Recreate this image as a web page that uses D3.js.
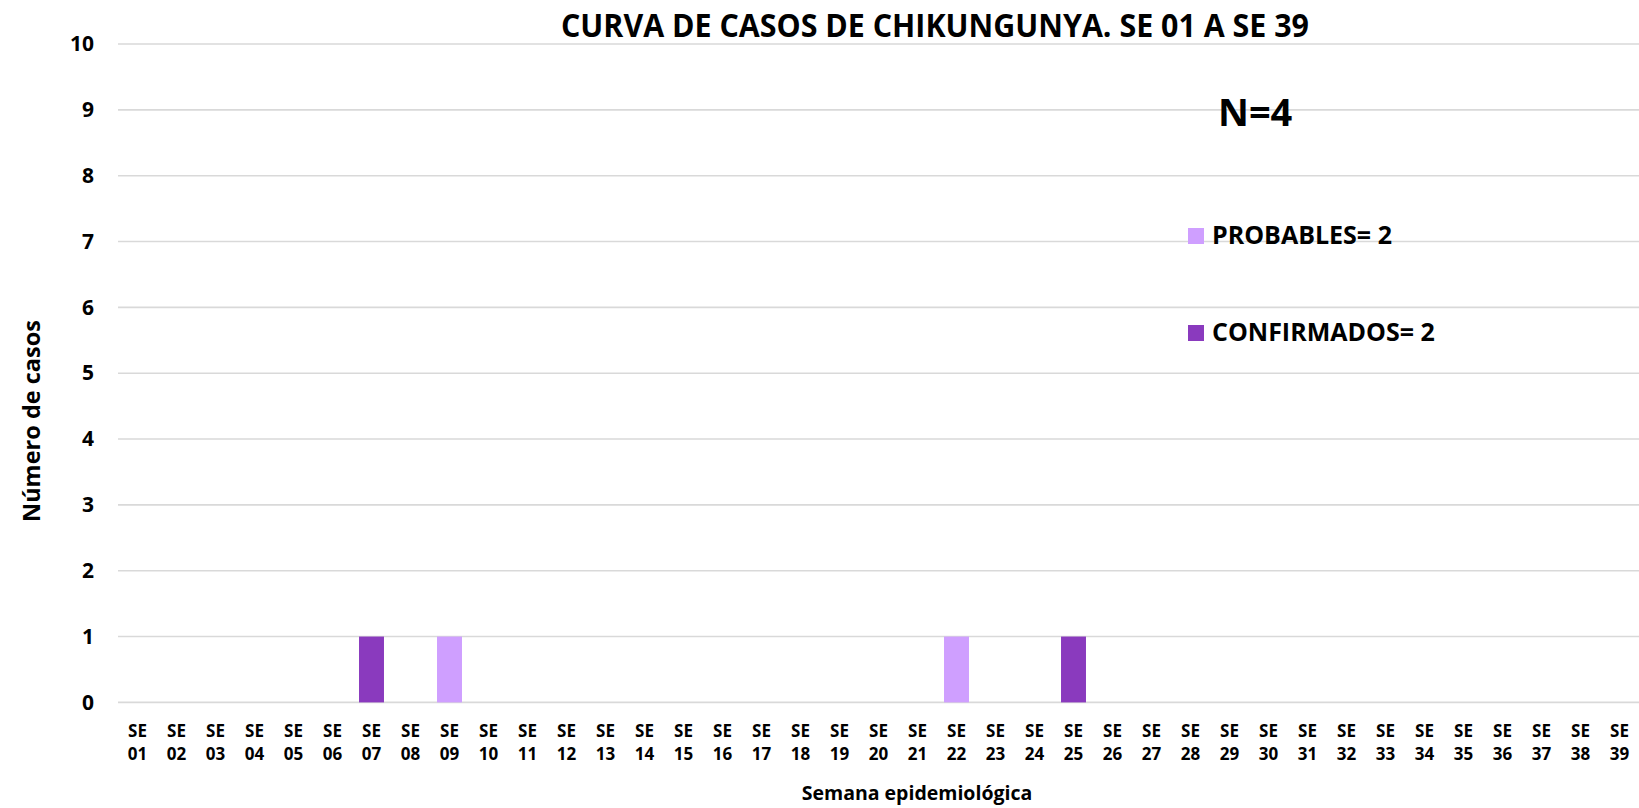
<!DOCTYPE html>
<html>
<head>
<meta charset="utf-8">
<script src="https://cdn.jsdelivr.net/npm/d3@7"></script>
<style>
  html, body { margin: 0; padding: 0; background: #fff; }
  svg { display: block; font-family: "Open Sans", "Noto Sans", sans-serif; }
</style>
</head>
<body>
<svg id="chart" width="1639" height="808"></svg>
<script>
// ---- data ----
const weeks = ["01","02","03","04","05","06","07","08","09","10","11","12","13","14","15","16","17","18","19","20",
               "21","22","23","24","25","26","27","28","29","30","31","32","33","34","35","36","37","38","39"];
const probables   = [0,0,0,0,0,0,0,0,1,0,0,0,0,0,0,0,0,0,0,0,0,1,0,0,0,0,0,0,0,0,0,0,0,0,0,0,0,0,0];
const confirmados = [0,0,0,0,0,0,1,0,0,0,0,0,0,0,0,0,0,0,0,0,0,0,0,0,1,0,0,0,0,0,0,0,0,0,0,0,0,0,0];
const yTicks = [0,1,2,3,4,5,6,7,8,9,10];
const seriesNames = ["PROBABLES= 2", "CONFIRMADOS= 2"];
const titleText = "CURVA DE CASOS DE CHIKUNGUNYA. SE 01 A SE 39";
const nText = "N=4";

// ---- layout ----
const svg = d3.select("#chart");
const mLeft = 118, mRight = 1639, mTop = 44, mBottom = 702.4;
const colors = { prob: "#cf9fff", conf: "#8a3abe" };

const x = d3.scaleBand().domain(weeks).range([mLeft, mRight]).paddingInner(0.36).paddingOuter(0.18);
const y = d3.scaleLinear().domain([0, 10]).range([mBottom, mTop]);

// gridlines
svg.append("g").selectAll("line").data(yTicks).join("line")
  .attr("x1", mLeft).attr("x2", mRight)
  .attr("y1", d => y(d)).attr("y2", d => y(d))
  .attr("stroke", "#d9d9d9").attr("stroke-width", 1.6);

// y axis labels
const yAxis = d3.axisLeft(y).tickValues(yTicks).tickSize(0).tickPadding(0).tickFormat(d3.format("d"));
const gy = svg.append("g").attr("transform", `translate(94,0)`).call(yAxis);
gy.select(".domain").remove();
gy.selectAll("text").attr("font-size", 21).attr("font-weight", "bold").attr("fill", "#000")
  .attr("font-family", "'Open Sans', sans-serif");

// bars (stacked)
const rows = weeks.map((w, i) => ({ week: w, prob: probables[i], conf: confirmados[i] }));
const stack = d3.stack().keys(["conf", "prob"])(rows);
svg.append("g").selectAll("g").data(stack).join("g")
  .attr("fill", d => colors[d.key])
  .selectAll("rect").data(d => d.filter(p => p[1] - p[0] > 0)).join("rect")
  .attr("x", d => x(d.data.week))
  .attr("width", x.bandwidth())
  .attr("y", d => y(d[1]))
  .attr("height", d => y(d[0]) - y(d[1]));

// x axis labels (two lines)
const xAxis = d3.axisBottom(x).tickSize(0).tickFormat("");
const gx = svg.append("g").attr("transform", `translate(0,${mBottom})`).call(xAxis);
gx.select(".domain").remove();
gx.selectAll(".tick").each(function(d) {
  const t = d3.select(this).append("text")
    .attr("text-anchor", "middle").attr("font-size", 17).attr("font-weight", "bold")
    .attr("fill", "#000").attr("font-family", "'Open Sans', sans-serif");
  t.append("tspan").attr("x", 0).attr("y", 35).text("SE");
  t.append("tspan").attr("x", 0).attr("y", 58).text(d);
});

// title
svg.append("text").attr("x", 935).attr("y", 37).attr("text-anchor", "middle")
  .attr("font-size", 33).attr("font-weight", "bold").attr("fill", "#000")
  .attr("textLength", 748).attr("lengthAdjust", "spacingAndGlyphs")
  .text(titleText);

// axis titles
svg.append("text").attr("transform", "translate(40,421) rotate(-90)").attr("text-anchor", "middle")
  .attr("font-size", 23.5).attr("font-weight", "bold").attr("fill", "#000")
  .text("Número de casos");
svg.append("text").attr("x", 917).attr("y", 800).attr("text-anchor", "middle")
  .attr("font-size", 19.5).attr("font-weight", "bold").attr("fill", "#000")
  .text("Semana epidemiológica");

// N label
svg.append("text").attr("x", 1218).attr("y", 126)
  .attr("font-size", 38).attr("font-weight", "bold").attr("fill", "#000")
  .text(nText);

// legend
const legend = [
  { name: seriesNames[0], color: colors.prob, base: 244 },
  { name: seriesNames[1], color: colors.conf, base: 341 }
];
const lg = svg.append("g").selectAll("g").data(legend).join("g");
lg.append("rect").attr("x", 1188).attr("y", d => d.base - 16).attr("width", 16).attr("height", 16)
  .attr("fill", d => d.color);
lg.append("text").attr("x", 1212).attr("y", d => d.base)
  .attr("font-size", 25).attr("font-weight", "bold").attr("fill", "#000")
  .text(d => d.name);
</script>
</body>
</html>
